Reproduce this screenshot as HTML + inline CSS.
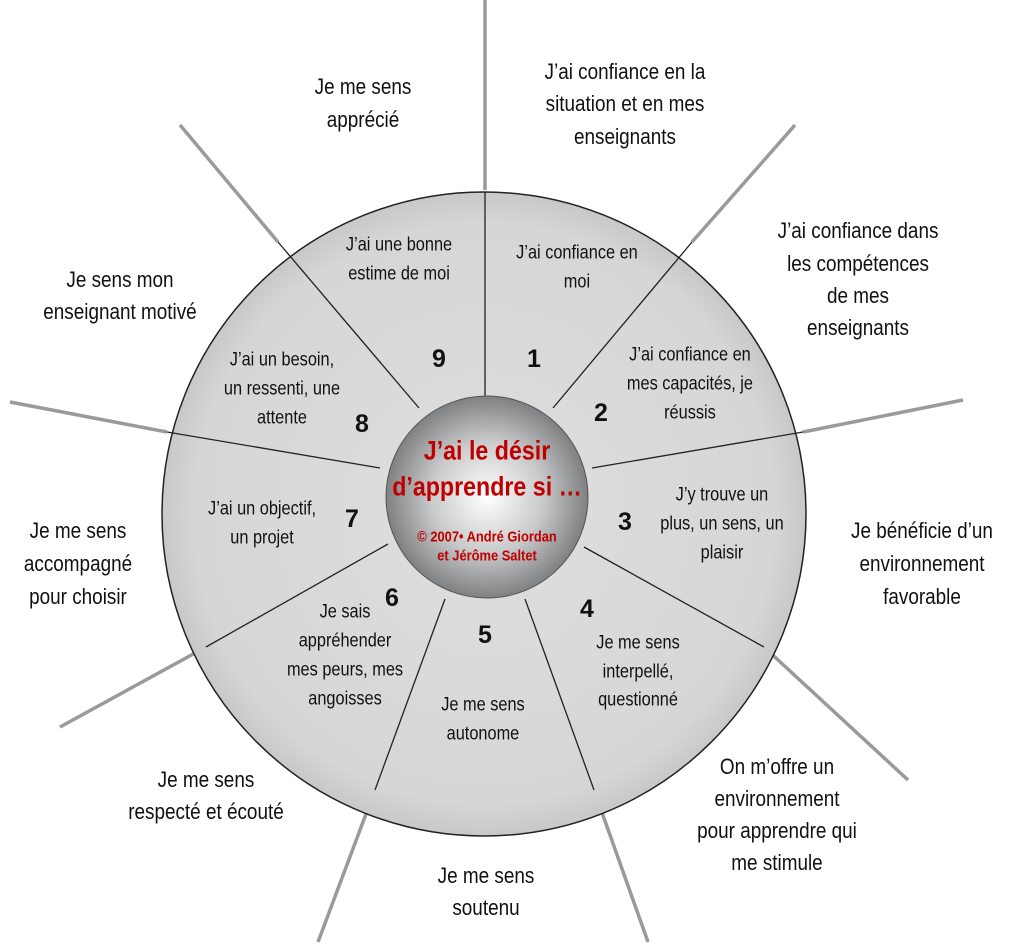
<!DOCTYPE html>
<html><head><meta charset="utf-8"><style>
html,body{margin:0;padding:0;background:#fff;}
svg{display:block;}
text{font-family:"Liberation Sans Narrow","Liberation Sans",sans-serif;text-anchor:middle;dominant-baseline:central;fill:#111;}
.o{font-size:22px;}
.i{font-size:19px;}
.n{font-size:25px;font-weight:bold;}
</style></head><body>
<svg width="1023" height="946" viewBox="0 0 1023 946" xmlns="http://www.w3.org/2000/svg">
<defs>
<radialGradient id="big" cx="50%" cy="50%" r="50%">
<stop offset="0.3" stop-color="#dcdcdc"/><stop offset="0.9" stop-color="#d6d6d6"/><stop offset="1" stop-color="#c8c8c8"/>
</radialGradient>
<radialGradient id="hub" cx="50%" cy="50%" r="50%">
<stop offset="0" stop-color="#ffffff"/><stop offset="0.55" stop-color="#c9cacb"/><stop offset="1" stop-color="#7f8082"/>
</radialGradient>
</defs>
<g stroke="#9a9a9a" stroke-width="3.5" stroke-linecap="butt">
<line x1="485" y1="0" x2="485" y2="190"/>
<line x1="795" y1="125" x2="692" y2="242"/>
<line x1="963" y1="400" x2="803" y2="432"/>
<line x1="908" y1="780" x2="764" y2="647"/>
<line x1="648" y1="942" x2="594" y2="790"/>
<line x1="318" y1="942" x2="375" y2="790"/>
<line x1="60" y1="727" x2="206" y2="647"/>
<line x1="10" y1="402" x2="167" y2="432"/>
<line x1="180" y1="125" x2="278" y2="242"/>
</g>
<circle cx="484" cy="514" r="322" fill="url(#big)" stroke="#222" stroke-width="1.5"/>
<g stroke="#222" stroke-width="1.3">
<line x1="485" y1="192" x2="485" y2="400"/>
<line x1="692" y1="242" x2="553" y2="408"/>
<line x1="803" y1="432" x2="592" y2="468"/>
<line x1="764" y1="647" x2="584" y2="547"/>
<line x1="594" y1="790" x2="525" y2="599"/>
<line x1="375" y1="790" x2="445" y2="599"/>
<line x1="206" y1="647" x2="388" y2="544"/>
<line x1="167" y1="432" x2="380" y2="468"/>
<line x1="278" y1="242" x2="419" y2="408"/>
</g>
<circle cx="487" cy="497" r="101" fill="url(#hub)" stroke="#555" stroke-width="1"/>
<g transform="scale(0.86,1)">
<text x="566.3" y="451" style="fill:#c00000;font-size:27px;font-weight:bold">J’ai le désir</text>
<text x="566.3" y="487" style="fill:#c00000;font-size:27px;font-weight:bold">d’apprendre si …</text>
<text x="566.3" y="536" style="fill:#c00000;font-size:15px;font-weight:bold">© 2007• André Giordan</text>
<text x="566.3" y="555" style="fill:#c00000;font-size:15px;font-weight:bold">et Jérôme Saltet</text>
<!-- inner labels -->
<text class="i" x="464.0" y="244">J’ai une bonne</text>
<text class="i" x="464.0" y="273">estime de moi</text>
<text class="i" x="670.9" y="252">J’ai confiance en</text>
<text class="i" x="670.9" y="281">moi</text>
<text class="i" x="802.3" y="354">J’ai confiance en</text>
<text class="i" x="802.3" y="383">mes capacités, je</text>
<text class="i" x="802.3" y="412">réussis</text>
<text class="i" x="327.9" y="359">J’ai un besoin,</text>
<text class="i" x="327.9" y="388">un ressenti, une</text>
<text class="i" x="327.9" y="417">attente</text>
<text class="i" x="304.7" y="508">J’ai un objectif,</text>
<text class="i" x="304.7" y="537">un projet</text>
<text class="i" x="839.5" y="494">J’y trouve un</text>
<text class="i" x="839.5" y="523">plus, un sens, un</text>
<text class="i" x="839.5" y="552">plaisir</text>
<text class="i" x="401.2" y="611">Je sais</text>
<text class="i" x="401.2" y="640">appréhender</text>
<text class="i" x="401.2" y="669">mes peurs, mes</text>
<text class="i" x="401.2" y="698">angoisses</text>
<text class="i" x="561.6" y="704">Je me sens</text>
<text class="i" x="561.6" y="733">autonome</text>
<text class="i" x="741.9" y="642">Je me sens</text>
<text class="i" x="741.9" y="671">interpellé,</text>
<text class="i" x="741.9" y="699">questionné</text>
<!-- outer labels -->
<text class="o" x="422.1" y="87">Je me sens</text>
<text class="o" x="422.1" y="120">apprécié</text>
<text class="o" x="726.7" y="72">J’ai confiance en la</text>
<text class="o" x="726.7" y="104">situation et en mes</text>
<text class="o" x="726.7" y="137">enseignants</text>
<text class="o" x="997.7" y="231">J’ai confiance dans</text>
<text class="o" x="997.7" y="264">les compétences</text>
<text class="o" x="997.7" y="296">de mes</text>
<text class="o" x="997.7" y="328">enseignants</text>
<text class="o" x="139.5" y="280">Je sens mon</text>
<text class="o" x="139.5" y="312">enseignant motivé</text>
<text class="o" x="1072.1" y="531">Je bénéficie d’un</text>
<text class="o" x="1072.1" y="564">environnement</text>
<text class="o" x="1072.1" y="597">favorable</text>
<text class="o" x="90.7" y="531">Je me sens</text>
<text class="o" x="90.7" y="564">accompagné</text>
<text class="o" x="90.7" y="597">pour choisir</text>
<text class="o" x="903.5" y="767">On m’offre un</text>
<text class="o" x="903.5" y="799">environnement</text>
<text class="o" x="903.5" y="831">pour apprendre qui</text>
<text class="o" x="903.5" y="863">me stimule</text>
<text class="o" x="239.5" y="780">Je me sens</text>
<text class="o" x="239.5" y="812">respecté et écouté</text>
<text class="o" x="565.1" y="876">Je me sens</text>
<text class="o" x="565.1" y="908">soutenu</text>
</g>
<!-- numbers -->
<text class="n" x="439" y="359">9</text>
<text class="n" x="534" y="359">1</text>
<text class="n" x="601" y="413">2</text>
<text class="n" x="362" y="424">8</text>
<text class="n" x="352" y="519">7</text>
<text class="n" x="625" y="522">3</text>
<text class="n" x="392" y="598">6</text>
<text class="n" x="485" y="635">5</text>
<text class="n" x="587" y="609">4</text>
</svg>
</body></html>
